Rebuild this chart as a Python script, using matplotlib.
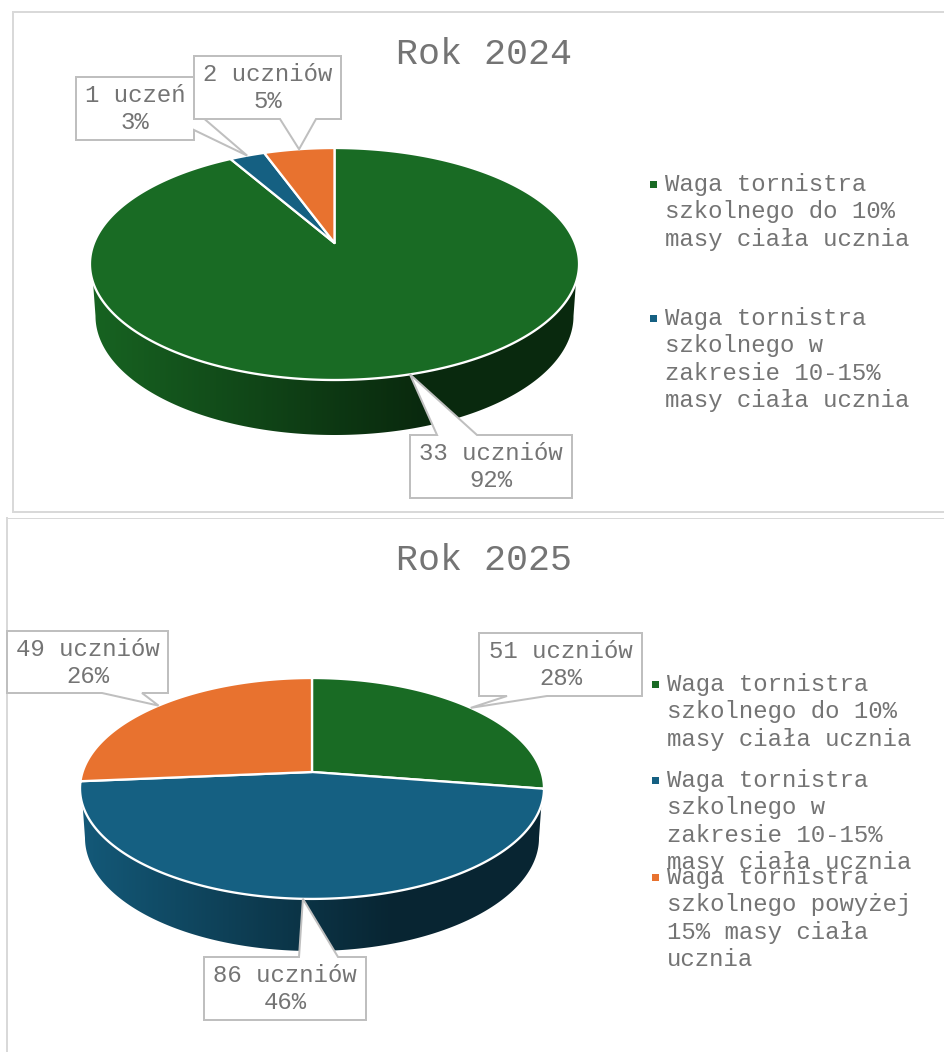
import numpy as np
import matplotlib
matplotlib.use("Agg")
import matplotlib.pyplot as plt
from matplotlib.patches import Polygon
from matplotlib.colors import to_rgb

# ---- data ----
values_2024 = [33, 1, 2]
values_2025 = [51, 86, 49]
labels_2024 = ["33 uczniów", "1 uczeń", "2 uczniów"]
labels_2025 = ["51 uczniów", "86 uczniów", "49 uczniów"]
shares_2024 = ["92%", "3%", "5%"]
shares_2025 = ["28%", "46%", "26%"]
colors = ["#196B24", "#156082", "#E8722F"]
legend_2024 = [["Waga tornistra", "szkolnego do 10%", "masy ciała ucznia"],
               ["Waga tornistra", "szkolnego w", "zakresie 10-15%", "masy ciała ucznia"]]
legend_2025 = [["Waga tornistra", "szkolnego do 10%", "masy ciała ucznia"],
               ["Waga tornistra", "szkolnego w", "zakresie 10-15%", "masy ciała ucznia"],
               ["Waga tornistra", "szkolnego powyżej", "15% masy ciała", "ucznia"]]

FONT = "Liberation Mono"
TXT = "#747474"
EDGE = "#BFBFBF"
FRAME = "#D9D9D9"
PX = 0.72  # one pixel in points at dpi 100

fig = plt.figure(figsize=(9.45, 10.52), dpi=100, facecolor="white")
ax = fig.add_axes([0, 0, 1, 1])
ax.axis("off")


def surface(geo, theta):
    """Point on the perspective disc; theta clockwise from 12 o'clock, r=1 on rim."""
    t = np.radians(theta)
    u, v = np.sin(t), -np.cos(t)
    d = 1 - geo["k"] * v
    return geo["cx"] + geo["c"] * u / d, geo["cy"] + geo["a"] * v / d


def draw_pie(geo, values):
    vals = np.asarray(values, float)
    edges = np.concatenate([[0], np.cumsum(vals) / vals.sum() * 360])

    # side wall, in the colour of the slice that faces the viewer
    th = np.linspace(0, 360, 1441)
    x, y = surface(geo, th)
    keep = (y >= geo["wall_top"]) & (th > 45) & (th < 315)
    tx, ty = x[keep], y[keep]
    phi = np.linspace(np.pi, 0, 300)
    bx = geo["cx"] + geo["brx"] * np.cos(phi)
    by = geo["bcy"] + geo["bry"] * np.sin(phi)
    wall = Polygon(np.column_stack([np.r_[tx, bx], np.r_[ty, by]]), closed=True,
                   fc="none", ec="none")
    ax.add_patch(wall)
    base = np.array(to_rgb(colors[int(np.argmax(vals))]))
    xs = np.linspace(geo["cx"] - geo["brx"] - 10, geo["cx"] + geo["brx"] + 10, 400)
    shade = np.interp(xs, [geo["cx"] - geo["brx"], geo["cx"], geo["cx"] + 0.35 * geo["brx"]],
                      [0.92, 0.52, 0.39])
    img = (shade[:, None] * base)[None, :, :]
    im = ax.imshow(img, extent=(xs[0], xs[-1], geo["bcy"] + geo["bry"] + 2, geo["wall_top"] - 2),
                   aspect="auto", interpolation="bilinear", zorder=1)
    im.set_clip_path(wall)

    # top face
    for i, val in enumerate(vals):
        th = np.linspace(edges[i], edges[i + 1], max(int(val / vals.sum() * 720), 8))
        x, y = surface(geo, th)
        pts = np.column_stack([np.r_[geo["cx"], x], np.r_[geo["cy"], y]])
        ax.add_patch(Polygon(pts, closed=True, fc=colors[i], ec="white", lw=2.3 * PX,
                             joinstyle="round", zorder=2))
    return (edges[:-1] + edges[1:]) / 2


def callout(geo, mid, box, right_base=None, bottom_base=None, top_base=None, z=3):
    l, r, t, b = box
    tip = surface(geo, mid)
    pts = [(l, t)]
    if top_base:
        pts += [(top_base[0], t), tip, (top_base[1], t)]
    pts.append((r, t))
    if right_base:
        pts += [(r, right_base[0]), tip, (r, right_base[1])]
    pts.append((r, b))
    if bottom_base:
        pts += [(bottom_base[0], b), tip, (bottom_base[1], b)]
    pts.append((l, b))
    ax.add_patch(Polygon(pts, closed=True, fc="white", ec=EDGE, lw=2 * PX,
                         joinstyle="miter", zorder=z))


def boxtext(box, top_line, bottom_line, z=3.3):
    l, r, t, b = box
    xc = (l + r) / 2
    for s, yy in ((top_line, t + 25), (bottom_line, t + 52)):
        ax.text(xc, yy, s, family=FONT, fontsize=17.3, color=TXT, ha="center",
                va="baseline", zorder=z)


def legend(items, mx, tx, first_base, marker_color_ids):
    for lines, base, cid in zip(items, first_base, marker_color_ids):
        ax.add_patch(Polygon([(mx, base - 10), (mx + 7, base - 10), (mx + 7, base - 3), (mx, base - 3)],
                             closed=True, fc=colors[cid], ec="none", zorder=5))
        for j, s in enumerate(lines):
            ax.text(tx, base + j * 27.3, s, family=FONT, fontsize=17.3, color=TXT,
                    ha="left", va="baseline", zorder=6)


# frames
ax.plot([945, 13, 13, 945], [12, 12, 512, 512], color=FRAME, lw=2 * PX, zorder=0,
        solid_joinstyle="miter")
ax.plot([945, 7], [518, 518], color=FRAME, lw=1 * PX, zorder=0)
ax.plot([7, 7], [518, 1052], color=FRAME, lw=2 * PX, zorder=0)

# ---- chart 2024 ----
g1 = dict(cx=334.5, cy=243, a=112.2, c=240.5, k=0.181, wall_top=282,
          brx=239, bcy=316, bry=119)
mid1 = draw_pie(g1, values_2024)
box_a = (410, 572, 435, 498)
box_b = (76, 194, 77, 140)
box_c = (194, 341, 56, 119)
callout(g1, mid1[0], box_a, top_base=(437, 477), z=3)
callout(g1, mid1[1], box_b, right_base=(110, 130), z=3.1)
callout(g1, mid1[2], box_c, bottom_base=(316, 280), z=3.2)
boxtext(box_a, labels_2024[0], shares_2024[0])
boxtext(box_b, labels_2024[1], shares_2024[1])
boxtext(box_c, labels_2024[2], shares_2024[2])
ax.text(484.5, 64, "Rok 2024", family=FONT, fontsize=26.4, color=TXT, ha="center",
        va="baseline", zorder=6)
legend(legend_2024, 650, 665, [191, 325], [0, 1])

# ---- chart 2025 ----
g2 = dict(cx=312, cy=772, a=108.0, c=229.4, k=0.149, wall_top=805,
          brx=227, bcy=838, bry=113)
mid2 = draw_pie(g2, values_2025)
box_d = (479, 642, 633, 696)
box_e = (204, 366, 957, 1020)
box_f = (7, 168, 631, 693)
callout(g2, mid2[0], box_d, bottom_base=(547, 507), z=3)
callout(g2, mid2[1], box_e, top_base=(299, 338), z=3)
callout(g2, mid2[2], box_f, bottom_base=(142, 102), z=3)
boxtext(box_d, labels_2025[0], shares_2025[0])
boxtext(box_e, labels_2025[1], shares_2025[1])
boxtext(box_f, labels_2025[2], shares_2025[2])
ax.text(484.5, 570, "Rok 2025", family=FONT, fontsize=26.4, color=TXT, ha="center",
        va="baseline", zorder=6)
legend(legend_2025, 652, 667, [691, 787, 884], [0, 1, 2])

ax.set_xlim(0, 945)
ax.set_ylim(1052, 0)
fig.savefig("out.png", dpi=100, facecolor="white")
